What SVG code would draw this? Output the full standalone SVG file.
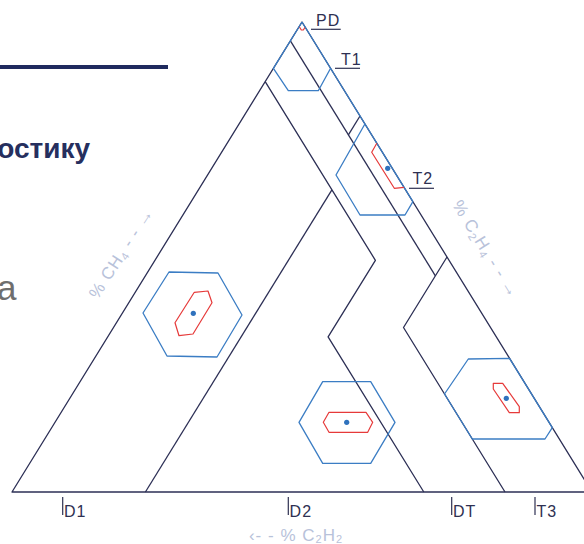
<svg xmlns="http://www.w3.org/2000/svg" width="584" height="544" viewBox="0 0 584 544">
<style>
.dk{fill:none;stroke:#2c2f55;stroke-width:1.3;stroke-linejoin:round}
.bl{fill:none;stroke:#3b7dc4;stroke-width:1.3;stroke-linejoin:round}
.rd{fill:none;stroke:#e63a3a;stroke-width:1.2;stroke-linejoin:round}
.dot{fill:#2f72bd}
.lbl{font-family:"Liberation Sans",Arial,sans-serif;font-size:16px;fill:#2e3052;letter-spacing:1px}
.ax{font-family:"Liberation Sans",Arial,sans-serif;font-size:17px;fill:#b8c2da;letter-spacing:1px}
.tick{stroke:#2e3052;stroke-width:1.2}
</style>
<rect width="584" height="544" fill="#ffffff"/>
<g id="page">
<rect x="0" y="65" width="168" height="4" fill="#1f2a5e"/>
<text x="90" y="158" text-anchor="end" font-family="'Liberation Sans',Arial,sans-serif" font-weight="bold" font-size="28" fill="#262f5e">остику</text>
<text x="-3" y="300" font-family="'Liberation Sans',Arial,sans-serif" font-size="35" fill="#6e6e6e">а</text>
</g>
<g id="connectors">
<path class="dk" d="M12,492 L302,22 L592,492 Z"/>
<path class="dk" d="M290.4,40.8 L435.4,275.8"/>
<path class="dk" d="M360,116 L348.4,134.8"/>
<path class="dk" d="M265.2,81.7 L375.4,260.3 L328.1,336.9 L423.8,492"/>
<path class="dk" d="M145.4,492 L331.9,189.8"/>
<path class="dk" d="M447,257 L403.5,327.5 L505,492"/>
</g>
<g id="zone-PD">
<path class="rd" d="M299.3,26.7 L301.3,30 L303.3,30 L305.3,27"/>
</g>
<g id="zone-T1">
<path class="bl" d="M302,22 L273.4,68.3 L288.3,90.7 L318.3,90.7 L330.6,68.3"/>
<path class="bl" d="M302,22 L412.9,201.7"/>
</g>
<g id="zone-T2">
<path class="bl" d="M364.9,124 L336,175 L360,215 L405,215 L412.9,201.7"/>
<path class="rd" d="M376.8,143.3 L371.7,152.3 L394.3,188.3 L404,187.3"/>
<circle class="dot" cx="387.7" cy="168.3" r="2.6"/>
</g>
<g id="zone-D1">
<path class="bl" d="M169,272 L218,273 L242,315 L217,357 L167,356 L143,313 Z"/>
<path class="rd" d="M194.3,292.3 L208,291 L212,302.7 L193,334 L179,335.7 L175,322.7 Z"/>
<circle class="dot" cx="193.3" cy="313.3" r="2.6"/>
</g>
<g id="zone-D2">
<path class="bl" d="M322.7,381.7 L370.7,381.7 L395,422.3 L370.7,463.3 L322.7,463.3 L299,422.3 Z"/>
<path class="rd" d="M329,412.3 L366,412.3 L372.7,422.3 L367.7,432.3 L329,432.3 L323.3,422.3 Z"/>
<circle class="dot" cx="346.7" cy="422.3" r="2.6"/>
</g>
<g id="zone-T3">
<path class="bl" d="M468.3,359 L509.5,358.3 L552.3,427.7 L545,439 L472.3,439 L444.5,394 Z"/>
<path class="rd" d="M493.3,383.3 L502.7,383.3 L519.3,406.7 L519.3,412.7 L509.3,412.7 L493.3,389 Z"/>
<circle class="dot" cx="506.3" cy="398.3" r="2.6"/>
</g>
<g id="label-PD">
<line class="tick" x1="311" y1="29.3" x2="340.7" y2="29.3"/>
<text class="lbl" x="316" y="26">PD</text>
</g>
<g id="label-T1">
<line class="tick" x1="335" y1="68.3" x2="360" y2="68.3"/>
<text class="lbl" x="341" y="65">T1</text>
</g>
<g id="label-T2">
<line class="tick" x1="409" y1="188.3" x2="434" y2="188.3"/>
<text class="lbl" x="412.5" y="184">T2</text>
</g>
<g id="label-D1">
<line class="tick" x1="62.7" y1="497" x2="62.7" y2="515"/>
<text class="lbl" x="64" y="516.5">D1</text>
</g>
<g id="label-D2">
<line class="tick" x1="288.3" y1="497" x2="288.3" y2="515"/>
<text class="lbl" x="289.6" y="516.5">D2</text>
</g>
<g id="label-DT">
<line class="tick" x1="451.7" y1="497" x2="451.7" y2="515"/>
<text class="lbl" x="453" y="516.5">DT</text>
</g>
<g id="label-T3">
<line class="tick" x1="535" y1="497" x2="535" y2="515"/>
<text class="lbl" x="536.5" y="516.5">T3</text>
</g>
<g id="axis-labels">
<text class="ax" transform="translate(121,253) rotate(-57)" x="0" y="6" text-anchor="middle">% CH<tspan font-size="11" dy="3">4</tspan><tspan dy="-3"> - - →</tspan></text>
<text class="ax" transform="translate(486,249) rotate(58.3)" x="0" y="6" text-anchor="middle">% C<tspan font-size="11" dy="3">2</tspan><tspan dy="-3">H</tspan><tspan font-size="11" dy="3">4</tspan><tspan dy="-3"> - - →</tspan></text>
<text class="ax" x="296" y="541" text-anchor="middle">‹- - %  C<tspan font-size="11" dy="1.5">2</tspan><tspan dy="-1.5">H</tspan><tspan font-size="11" dy="1.5">2</tspan></text>
</g>
</svg>
